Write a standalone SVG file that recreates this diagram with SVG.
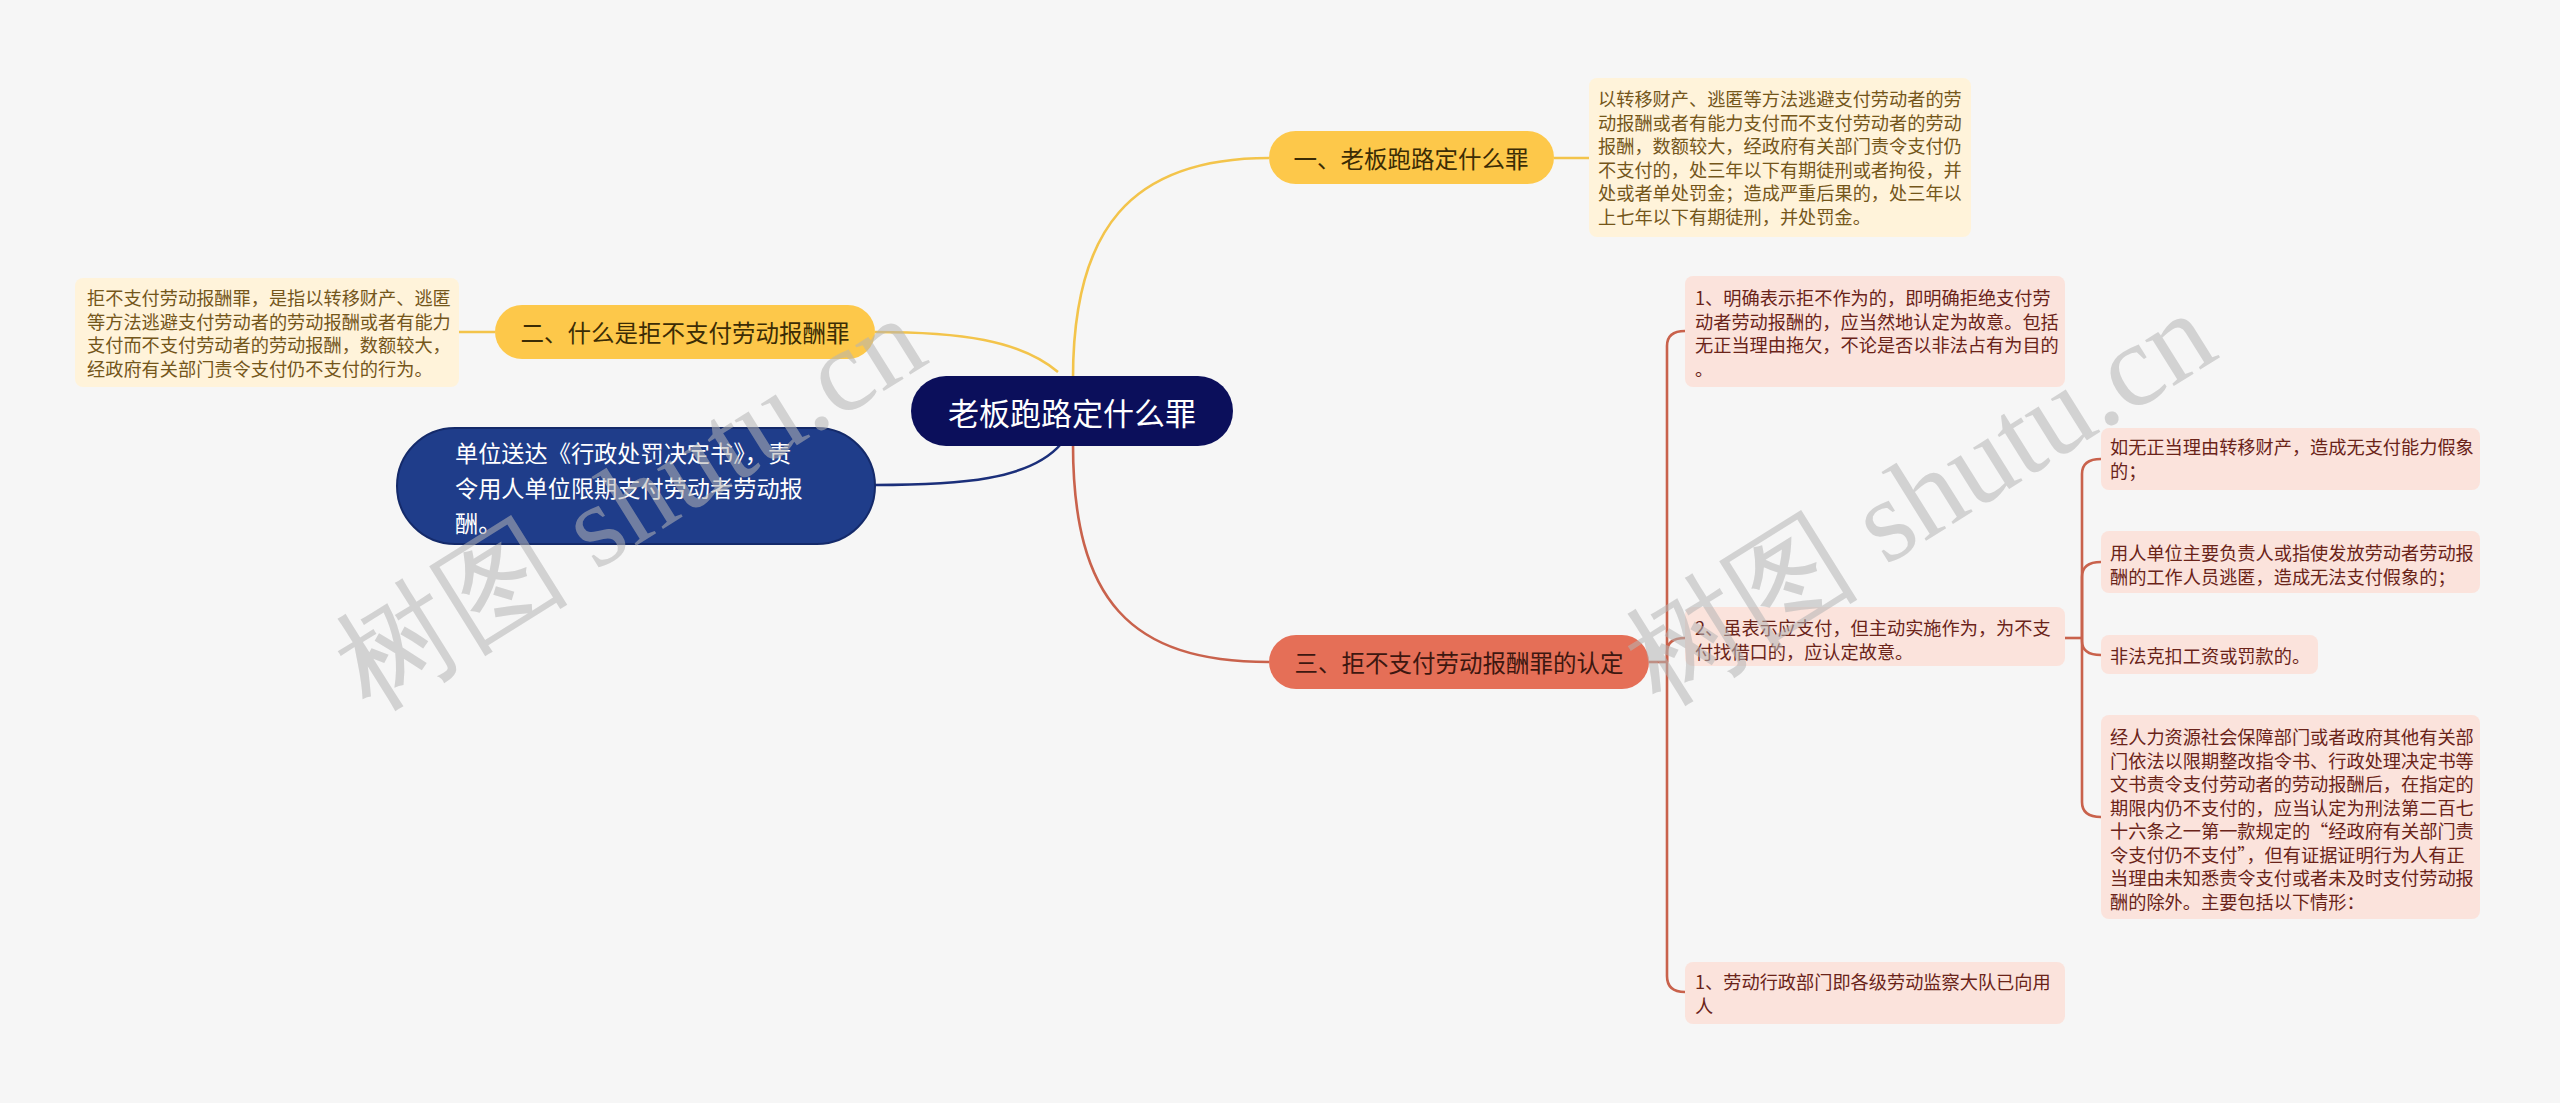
<svg xmlns="http://www.w3.org/2000/svg" width="2560" height="1103" viewBox="0 0 2560 1103">
<style>
text{font-family:"Noto Sans CJK SC","Microsoft YaHei",sans-serif;dominant-baseline:central}
.leafY rect{fill:#fff3da}
.leafY text{fill:#74561a;font-size:18.2px}
.leafP rect{fill:#fbe3dc}
.leafP text{fill:#6a2319;font-size:18.2px}
.br text{font-size:23.5px;text-anchor:middle}
.cy{fill:none;stroke:#f3c44b;stroke-width:2.6}
.cr{fill:none;stroke:#c9624c;stroke-width:2.6}
.cb{fill:none;stroke:#1b2f7a;stroke-width:2.6}
.wm{font-family:"Liberation Serif",serif;font-size:118px;fill:#b4b4b4;fill-opacity:0.55;dominant-baseline:auto}
</style>
<rect width="2560" height="1103" fill="#f6f6f6"/>
<g id="connectors">
<path class="cy" d="M1073,378 C1073,230 1130,158 1269,158"/>
<path class="cy" d="M1554,158 H1589"/>
<path class="cy" d="M1058,372 C1020,340 960,332 875,332"/>
<path class="cy" d="M459,332 H495"/>
<path class="cb" d="M1061,444 C1030,480 960,485 875,485"/>
<path class="cr" d="M1073,444 C1073,600 1130,662 1269,662"/>
<path class="cr" d="M1649,662 H1667"/>
<path class="cr" d="M1667,662 V346 Q1667,331 1685,331"/>
<path class="cr" d="M1667,662 V652 Q1667,638 1685,638"/>
<path class="cr" d="M1667,662 V976 Q1667,992 1685,992"/>
<path class="cr" d="M2065,638 H2082"/>
<path class="cr" d="M2082,638 V474 Q2082,459 2101,459"/>
<path class="cr" d="M2082,638 V577 Q2082,562 2101,562"/>
<path class="cr" d="M2082,638 V641 Q2082,655 2101,655"/>
<path class="cr" d="M2082,638 V802 Q2082,817 2101,817"/>
</g>
<g id="root">
<rect x="911" y="376" width="322" height="70" rx="35" fill="#0b0f5b"/>
<text x="1072" y="411" font-size="31" fill="#ffffff" text-anchor="middle">老板跑路定什么罪</text>
</g>
<g id="b1" class="br">
<rect x="1269" y="131" width="285" height="53" rx="26.5" fill="#fdc84a"/>
<text x="1411" y="158" fill="#3b2c05">一、老板跑路定什么罪</text>
</g>
<g id="leaf1" class="leafY">
<rect x="1589" y="78" width="382" height="159" rx="8"/>
<text x="1598" y="98">以转移财产、逃匿等方法逃避支付劳动者的劳</text>
<text x="1598" y="121.5">动报酬或者有能力支付而不支付劳动者的劳动</text>
<text x="1598" y="145">报酬，数额较大，经政府有关部门责令支付仍</text>
<text x="1598" y="168.5">不支付的，处三年以下有期徒刑或者拘役，并</text>
<text x="1598" y="192">处或者单处罚金；造成严重后果的，处三年以</text>
<text x="1598" y="215.5">上七年以下有期徒刑，并处罚金。</text>
</g>
<g id="b2" class="br">
<rect x="495" y="305" width="380" height="54" rx="27" fill="#fdc84a"/>
<text x="685" y="332" fill="#3b2c05">二、什么是拒不支付劳动报酬罪</text>
</g>
<g id="leaf2" class="leafY">
<rect x="75" y="278" width="384" height="109" rx="8"/>
<text x="87" y="297">拒不支付劳动报酬罪，是指以转移财产、逃匿</text>
<text x="87" y="320.5">等方法逃避支付劳动者的劳动报酬或者有能力</text>
<text x="87" y="344">支付而不支付劳动者的劳动报酬，数额较大，</text>
<text x="87" y="367.5">经政府有关部门责令支付仍不支付的行为。</text>
</g>
<g id="bblue">
<rect x="397" y="428" width="478" height="116" rx="58" fill="#1f3d8a" stroke="#142a6a" stroke-width="2"/>
<text x="455" y="452" font-size="23.2" fill="#ffffff">单位送达《行政处罚决定书》，责</text>
<text x="455" y="487" font-size="23.2" fill="#ffffff">令用人单位限期支付劳动者劳动报</text>
<text x="455" y="522" font-size="23.2" fill="#ffffff">酬。</text>
</g>
<g id="b3" class="br">
<rect x="1269" y="635" width="380" height="54" rx="27" fill="#e56f57"/>
<text x="1459" y="662" fill="#3d1710">三、拒不支付劳动报酬罪的认定</text>
</g>
<g id="l3a" class="leafP">
<rect x="1685" y="276" width="380" height="111" rx="8"/>
<text x="1695" y="297">1、明确表示拒不作为的，即明确拒绝支付劳</text>
<text x="1695" y="320.5">动者劳动报酬的，应当然地认定为故意。包括</text>
<text x="1695" y="344">无正当理由拖欠，不论是否以非法占有为目的</text>
<text x="1695" y="367.5">。</text>
</g>
<g id="l3b" class="leafP">
<rect x="1685" y="607" width="380" height="59" rx="8"/>
<text x="1695" y="627">2、虽表示应支付，但主动实施作为，为不支</text>
<text x="1695" y="650.5">付找借口的，应认定故意。</text>
</g>
<g id="l3c" class="leafP">
<rect x="1685" y="962" width="380" height="62" rx="8"/>
<text x="1695" y="981">1、劳动行政部门即各级劳动监察大队已向用</text>
<text x="1695" y="1004.5">人</text>
</g>
<g id="s1" class="leafP">
<rect x="2101" y="428" width="379" height="62" rx="8"/>
<text x="2110" y="446">如无正当理由转移财产，造成无支付能力假象</text>
<text x="2110" y="469.5">的；</text>
</g>
<g id="s2" class="leafP">
<rect x="2101" y="531" width="379" height="62" rx="8"/>
<text x="2110" y="552">用人单位主要负责人或指使发放劳动者劳动报</text>
<text x="2110" y="575.5">酬的工作人员逃匿，造成无法支付假象的；</text>
</g>
<g id="s3" class="leafP">
<rect x="2101" y="635" width="217" height="39" rx="8"/>
<text x="2110" y="655">非法克扣工资或罚款的。</text>
</g>
<g id="s4" class="leafP">
<rect x="2101" y="715" width="379" height="204" rx="8"/>
<text x="2110" y="736">经人力资源社会保障部门或者政府其他有关部</text>
<text x="2110" y="759.5">门依法以限期整改指令书、行政处理决定书等</text>
<text x="2110" y="783">文书责令支付劳动者的劳动报酬后，在指定的</text>
<text x="2110" y="806.5">期限内仍不支付的，应当认定为刑法第二百七</text>
<text x="2110" y="830">十六条之一第一款规定的“经政府有关部门责</text>
<text x="2110" y="853.5">令支付仍不支付”，但有证据证明行为人有正</text>
<text x="2110" y="877">当理由未知悉责令支付或者未及时支付劳动报</text>
<text x="2110" y="900.5">酬的除外。主要包括以下情形：</text>
</g>
<g id="watermark">
<text class="wm" transform="translate(370,712) rotate(-32)">树图 shutu.cn</text>
<text class="wm" transform="translate(1660,707) rotate(-32)">树图 shutu.cn</text>
</g>
</svg>
